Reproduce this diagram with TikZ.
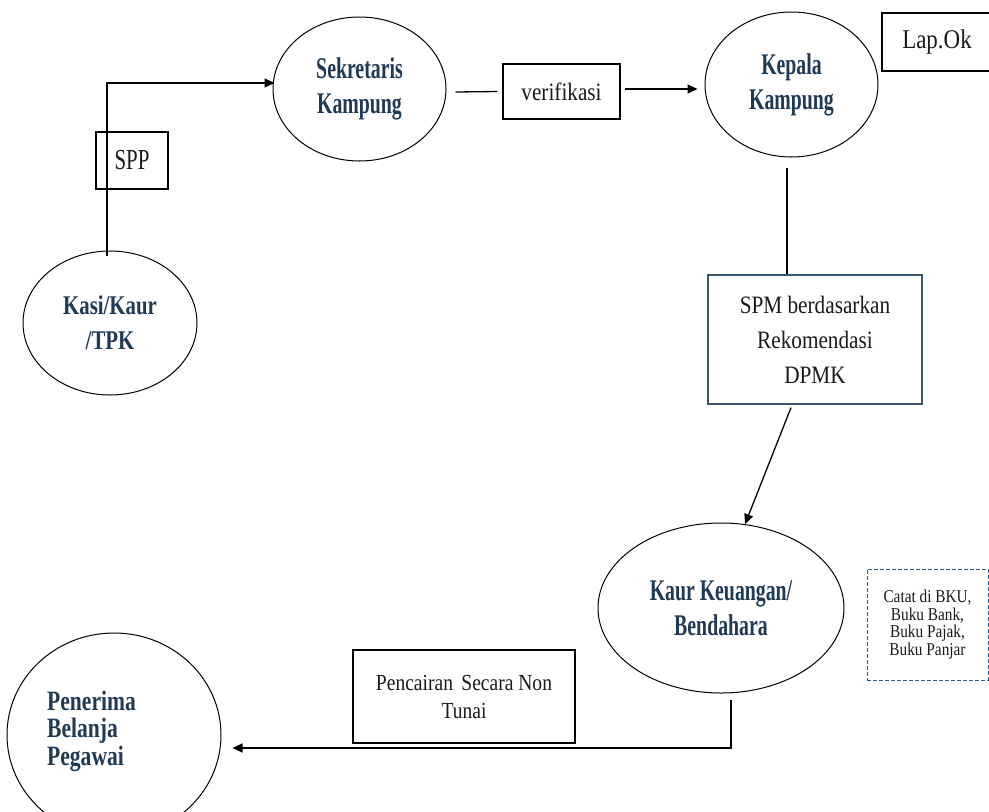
\documentclass[tikz,border=0pt]{standalone}
\usepackage{fontspec}
\setmainfont{Liberation Serif}
\newfontfamily\lblN[FakeStretch=0.66]{Liberation Serif}
\newfontfamily\lblW[FakeStretch=0.77]{Liberation Serif}
\newfontfamily\txtN[FakeStretch=0.85]{Liberation Serif}
\newfontfamily\txtS[FakeStretch=0.72]{Liberation Serif}
\usetikzlibrary{shapes.geometric,arrows.meta}
\definecolor{lbl}{HTML}{1F3A55}
\definecolor{ink}{HTML}{1A1A1A}
\definecolor{spmedge}{HTML}{3A5570}
\definecolor{noteedge}{HTML}{2F5A8A}
\begin{document}
\begin{tikzpicture}[x=1pt,y=-1pt,
  actor/.style={ellipse,draw,line width=1pt,inner sep=0pt,text=lbl,align=center},
  boxnode/.style={rectangle,draw,line width=1.2pt,inner sep=0pt,align=center,text=ink},
  arr/.style={line width=1.3pt,-{Triangle[length=10pt,width=9pt]}},
  link/.style={line width=1.3pt},
  bigbold/.style={font=\lblN\bfseries\fontsize{30}{35}\selectfont},
  widebold/.style={font=\lblW\bfseries\fontsize{27}{35}\selectfont}]
\fill[white] (0,0) rectangle (989,812);
\useasboundingbox (0,0) rectangle (989,812);

% actors
\node[actor,bigbold,minimum width=173pt,minimum height=144pt] (sek) at (359.5,89) {Sekretaris\\Kampung};
\node[actor,widebold,minimum width=174pt,minimum height=144pt] (kasi) at (110,323) {Kasi/Kaur\\/TPK};
\node[actor,bigbold,minimum width=173pt,minimum height=145pt] (kep) at (791.5,84.5) {Kepala\\Kampung};
\node[actor,bigbold,minimum width=246pt,minimum height=170pt] (kaur) at (721,608) {Kaur Keuangan/\\Bendahara};
\node[actor,minimum width=214pt,minimum height=204pt] (pen) at (114,735) {};
\node[anchor=west,align=left,text=lbl,inner sep=0pt,
      font=\lblW\bfseries\fontsize{28}{27.5}\selectfont] (pentxt) at (47,731) {Penerima\\Belanja\\Pegawai};

% documents and notes
\node[boxnode,minimum width=72pt,minimum height=57pt,font=\txtS\fontsize{29}{34}\selectfont] (spp) at (132,160.5) {SPP};
\node[boxnode,minimum width=117pt,minimum height=55pt,font=\txtN\fontsize{25}{30}\selectfont] (verif) at (561.5,91.5) {verifikasi};
\node[boxnode,minimum width=110pt,minimum height=58pt,font=\txtN\fontsize{27}{32}\selectfont] (lap) at (937,42) {Lap.Ok};
\node[boxnode,draw=spmedge,minimum width=214pt,minimum height=129pt,font=\txtN\fontsize{25}{35}\selectfont] (spm) at (815,339.5) {SPM berdasarkan\\Rekomendasi\\DPMK};
\node[boxnode,draw=noteedge,line width=1pt,dash pattern=on 4pt off 2pt,minimum width=121pt,minimum height=111pt,
      font=\txtN\fontsize{18}{17.5}\selectfont] (catat) at (927.5,624.5) {Catat di BKU,\\Buku Bank,\\Buku Pajak,\\Buku Panjar};
\node[boxnode,minimum width=222pt,minimum height=93pt,font=\txtN\fontsize{23}{28}\selectfont] (pnc) at (464,696.5) {Pencairan\hspace{0.15em} Secara Non\\Tunai};

% flows
\draw[arr] ([xshift=-3pt,yshift=-5pt]kasi.north) |- ([xshift=2pt,yshift=6pt]sek.west);
\draw[link] ([xshift=9pt,yshift=-3pt]sek.east) -- ([xshift=-5pt]verif.west);
\draw[arr] ([xshift=4pt,yshift=2.5pt]verif.east) -- ([xshift=-7pt,yshift=-4.5pt]kep.west);
\draw[link] ([xshift=-4.5pt,yshift=-10pt]kep.south) -- ([xshift=-28pt]spm.north);
\draw[arr] ([xshift=-24pt,yshift=-3pt]spm.south) -- (kaur.74);
\draw[arr] ([xshift=10pt,yshift=-6pt]kaur.south) |- ([xshift=11pt,yshift=-13pt]pen.east);
\end{tikzpicture}
\end{document}
